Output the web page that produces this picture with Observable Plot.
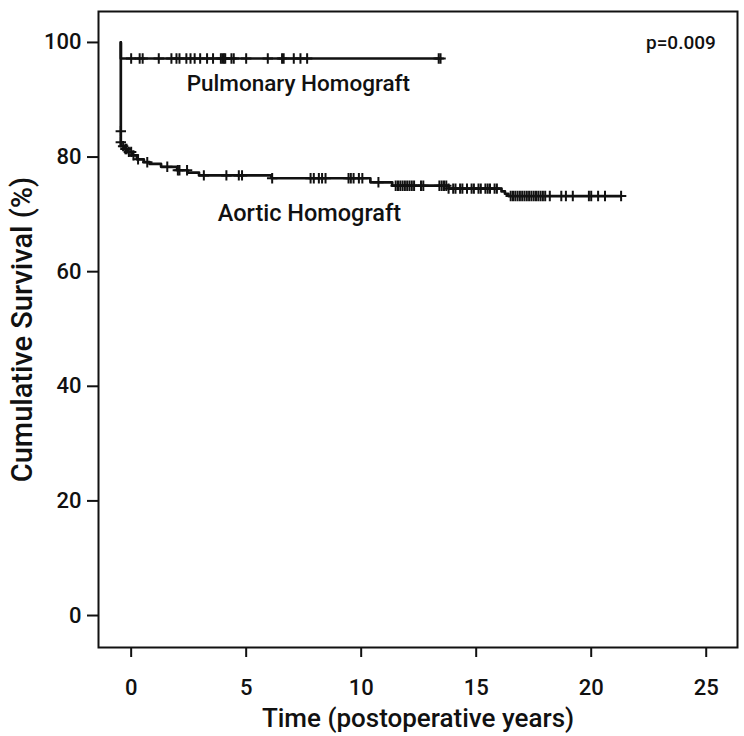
<!DOCTYPE html>
<html>
<head>
<meta charset="utf-8">
<script src="https://cdn.jsdelivr.net/npm/d3@7"></script>
<script src="https://cdn.jsdelivr.net/npm/@observablehq/plot@0.6"></script>
<style>
  html, body { margin: 0; padding: 0; background: #fff; }
  #chart svg { display: block; }
  #chart svg g[aria-label$="axis"] line,
  #chart svg g[aria-label*="tick"] path,
  #chart svg g[aria-label*="tick"] line { stroke-width: 2; stroke: #111; }
</style>
</head>
<body>
<div id="chart"></div>
<script>
// ---- data ----
const xTicks = [0, 5, 10, 15, 20, 25];
const yTicks = [0, 20, 40, 60, 80, 100];

// Pulmonary homograft step curve
const pulmTimes = [-0.45, -0.45, 13.45];
const pulmSurv  = [100, 97.2, 97.2];
const pulmCensor = [0.0, 0.37, 0.5, 1.2, 1.75, 1.97, 2.1, 2.4, 2.58, 2.76, 3.0, 3.3, 3.56,
  3.9, 3.97, 4.03, 4.09, 4.36, 4.46, 5.0, 5.94, 6.56, 6.63, 7.07, 7.36, 7.65, 13.37, 13.45];

// Aortic homograft step curve
const aortTimes = [-0.45, -0.45, -0.3, -0.15, 0.05, 0.25, 0.55, 0.8, 1.3, 2.0, 2.45, 2.95,
  6.1, 10.4, 11.35, 13.8, 16.1, 16.25, 16.4, 21.3];
const aortSurv  = [100, 81.9, 81.4, 80.9, 80.3, 79.6, 79.1, 78.8, 78.3, 77.7, 77.3, 76.8,
  76.3, 75.6, 75.0, 74.5, 74.0, 73.6, 73.2, 73.2];
const aortDropCensorSurv = [84.5, 82.6];
const aortCensor = [-0.35, -0.25, -0.2, -0.1, 0.0, 0.1, 0.3, 0.7, 1.57, 2.03, 2.1, 2.43, 3.16,
  4.14, 4.68, 4.82, 6.13, 7.8, 7.94, 8.16, 8.3, 8.45, 9.45, 9.55, 9.67, 9.9, 10.05, 10.75,
  11.5, 11.6, 11.7, 11.8, 11.9, 12.0, 12.1, 12.2, 12.3, 12.6, 12.7, 13.4, 13.5, 13.6, 13.7,
  13.8, 14.0, 14.1, 14.3, 14.4, 14.6, 14.8, 14.9, 15.1, 15.2, 15.4, 15.5, 15.6, 15.8, 15.9,
  16.5, 16.6, 16.7, 16.8, 16.9, 17.0, 17.1, 17.2, 17.3, 17.4, 17.5, 17.6, 17.7, 17.8, 17.9,
  18.0, 18.2, 18.7, 18.9, 19.2, 19.9, 20.0, 20.3, 20.6, 21.3];

const pValue = "p=0.009";
const groupLabels = ["Pulmonary Homograft", "Aortic Homograft"];
const xTitle = "Time (postoperative years)";
const yTitle = "Cumulative Survival (%)";

// ---- derived tables ----
const stepAt = (times, surv) => t => {
  let v = surv[0];
  for (let i = 0; i < times.length; i++) if (times[i] <= t) v = surv[i];
  return v;
};
const pulmLine = pulmTimes.map((t, i) => ({t, s: pulmSurv[i]}));
const aortLine = aortTimes.map((t, i) => ({t, s: aortSurv[i]}));
const pulmAt = stepAt(pulmTimes, pulmSurv);
const aortAt = stepAt(aortTimes, aortSurv);
const censorPts = [
  ...pulmCensor.map(t => ({t, s: pulmAt(t)})),
  ...aortCensor.map(t => ({t, s: aortAt(t)})),
  ...aortDropCensorSurv.map(s => ({t: aortTimes[0], s}))
];

// "+" censor symbol (stroked cross)
const plusSymbol = {
  draw(ctx, size) {
    const r = Math.sqrt(size / Math.PI);
    ctx.moveTo(-r, 0); ctx.lineTo(r, 0);
    ctx.moveTo(0, -r); ctx.lineTo(0, r);
  }
};

const FONT = "Roboto, 'Liberation Sans', sans-serif";

const chart = Plot.plot({
  width: 744,
  height: 736,
  marginLeft: 98,
  marginRight: 7,
  marginTop: 11,
  marginBottom: 89,
  style: {fontFamily: FONT, fontSize: "22px", fontWeight: "500", color: "#111", background: "#fff"},
  x: {domain: [-1.42, 26.36], ticks: xTicks, tickFormat: d => String(d), tickSize: 10, tickPadding: 22, label: null},
  y: {domain: [-5.58, 105.4], ticks: yTicks, tickFormat: d => String(d), tickSize: 11, tickPadding: 6, label: null},
  marks: [
    Plot.frame({stroke: "#111", strokeWidth: 2}),
    Plot.line(pulmLine, {x: "t", y: "s", curve: "step-after", stroke: "#111", strokeWidth: 2.7}),
    Plot.line(aortLine, {x: "t", y: "s", curve: "step-after", stroke: "#111", strokeWidth: 2.7}),
    Plot.dot(censorPts, {x: "t", y: "s", symbol: plusSymbol, r: 5.2, fill: "none", stroke: "#111", strokeWidth: 2}),
    Plot.text([groupLabels[0]], {x: 7.27, y: 92.8, text: d => d, fontSize: 22.5, fontWeight: 500, fill: "#111"}),
    Plot.text([groupLabels[1]], {x: 7.75, y: 70.2, text: d => d, fontSize: 23.5, fontWeight: 500, fill: "#111"}),
    Plot.text([pValue], {x: 23.9, y: 100, text: d => d, fontSize: 19, fontWeight: 500, fill: "#111"}),
    Plot.text([xTitle], {frameAnchor: "bottom", lineAnchor: "middle", textAnchor: "middle", dy: 71, text: d => d, fontSize: 26, fontWeight: 500, fill: "#111"}),
    Plot.text([yTitle], {frameAnchor: "left", lineAnchor: "middle", textAnchor: "middle", dx: -76, rotate: -90, text: d => d, fontSize: 29, fontWeight: 500, fill: "#111"})
  ]
});
document.getElementById("chart").appendChild(chart);
</script>
</body>
</html>
